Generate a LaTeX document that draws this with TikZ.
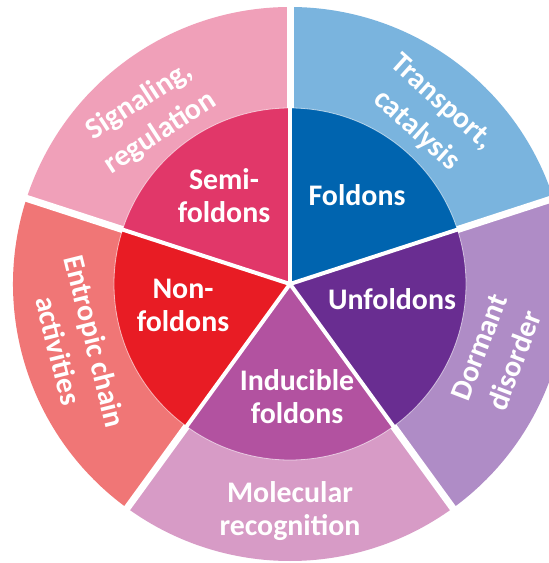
\documentclass[tikz,border=0pt]{standalone}
\usepackage{fontspec}
\setmainfont{Carlito}
\usetikzlibrary{positioning}
\pgfdeclarelayer{background layer}
\pgfsetlayers{background layer,main}
\definecolor{semipink}{RGB}{225,55,105}
\definecolor{foldblue}{RGB}{0,100,175}
\definecolor{unfoldpurple}{RGB}{105,45,145}
\definecolor{inducmauve}{RGB}{178,82,160}
\definecolor{nonred}{RGB}{232,28,36}
\definecolor{signalpink}{RGB}{240,160,185}
\definecolor{transblue}{RGB}{122,180,222}
\definecolor{dormlilac}{RGB}{175,140,198}
\definecolor{molecpink}{RGB}{215,155,198}
\definecolor{entrosalmon}{RGB}{240,118,118}

\begin{document}
\begin{tikzpicture}
[x=1bp,y=1bp,align=center,text=white,font=\bfseries\fontsize{30}{33}\selectfont]
\tikzstyle{label}=[inner sep=0pt]
\tikzstyle{ringlabel}=[inner sep=0pt,font=\bfseries\fontsize{30}{38}\selectfont]
\tikzstyle{divider}=[white,line width=4bp,line cap=round]
\tikzstyle{gap}=[white,line width=7bp]

\useasboundingbox (-290,-279) rectangle (259,284);
\coordinate (c) at (0,0);

% inner kinds
\draw node [label] (fold) at (67,89) {Foldons};
\draw node [label] (semi) at (-66,88) {Semi-\\foldons};
\draw node [label] (non) at (-107,-21) {Non-\\foldons};
\draw node [label] (unfold) at (102,-15) {Unfoldons};
\draw node [label] (induc) at (7,-113) {Inducible\\foldons};

% functions in the ring
\draw node [ringlabel,rotate=-42] (trans) at (139,167) {Transport,\\catalysis};
\draw node [ringlabel,rotate=33] (signal) at (-140,167) {Signaling,\\regulation};
\draw node [ringlabel,rotate=-76] (entro) at (-213,-62) {Entropic chain\\activities};
\draw node [label] (molec) at (0,-227) {Molecular\\recognition};
\draw node [ringlabel,rotate=69] (dorm) at (207,-70) {Dormant\\disorder};

\begin{pgfonlayer}{background layer}
\clip (-290,-279) rectangle (259,284);
\fill [white] (-290,-279) rectangle (259,284);
\fill [transblue] (c) -- (18:277) arc [start angle=18,end angle=90,radius=277bp] -- cycle;
\fill [signalpink] (c) -- (90:277) arc [start angle=90,end angle=162,radius=277bp] -- cycle;
\fill [entrosalmon] (c) -- (162:277) arc [start angle=162,end angle=234,radius=277bp] -- cycle;
\fill [molecpink] (c) -- (234:277) arc [start angle=234,end angle=306,radius=277bp] -- cycle;
\fill [dormlilac] (c) -- (306:277) arc [start angle=306,end angle=378,radius=277bp] -- cycle;

\fill [foldblue] (c) -- (18:176) arc [start angle=18,end angle=90,radius=176bp] -- cycle;
\fill [semipink] (c) -- (90:176) arc [start angle=90,end angle=162,radius=176bp] -- cycle;
\fill [nonred] (c) -- (162:176) arc [start angle=162,end angle=234,radius=176bp] -- cycle;
\fill [inducmauve] (c) -- (234:176) arc [start angle=234,end angle=306,radius=176bp] -- cycle;
\fill [unfoldpurple] (c) -- (306:176) arc [start angle=306,end angle=378,radius=176bp] -- cycle;

\draw [white,opacity=0.6,line width=0.8bp] (c) circle [radius=176bp];

\draw [divider] (c) -- (18:176);
\draw [divider] (c) -- (90:176);
\draw [divider] (c) -- (162:176);
\draw [divider] (c) -- (234:176);
\draw [divider] (c) -- (306:176);
\draw [gap] (18:176) -- (18:285);
\draw [gap] (90:176) -- (90:285);
\draw [gap] (162:176) -- (162:285);
\draw [gap] (234:176) -- (234:285);
\draw [gap] (306:176) -- (306:285);
\end{pgfonlayer}

\end{tikzpicture}
\end{document}
